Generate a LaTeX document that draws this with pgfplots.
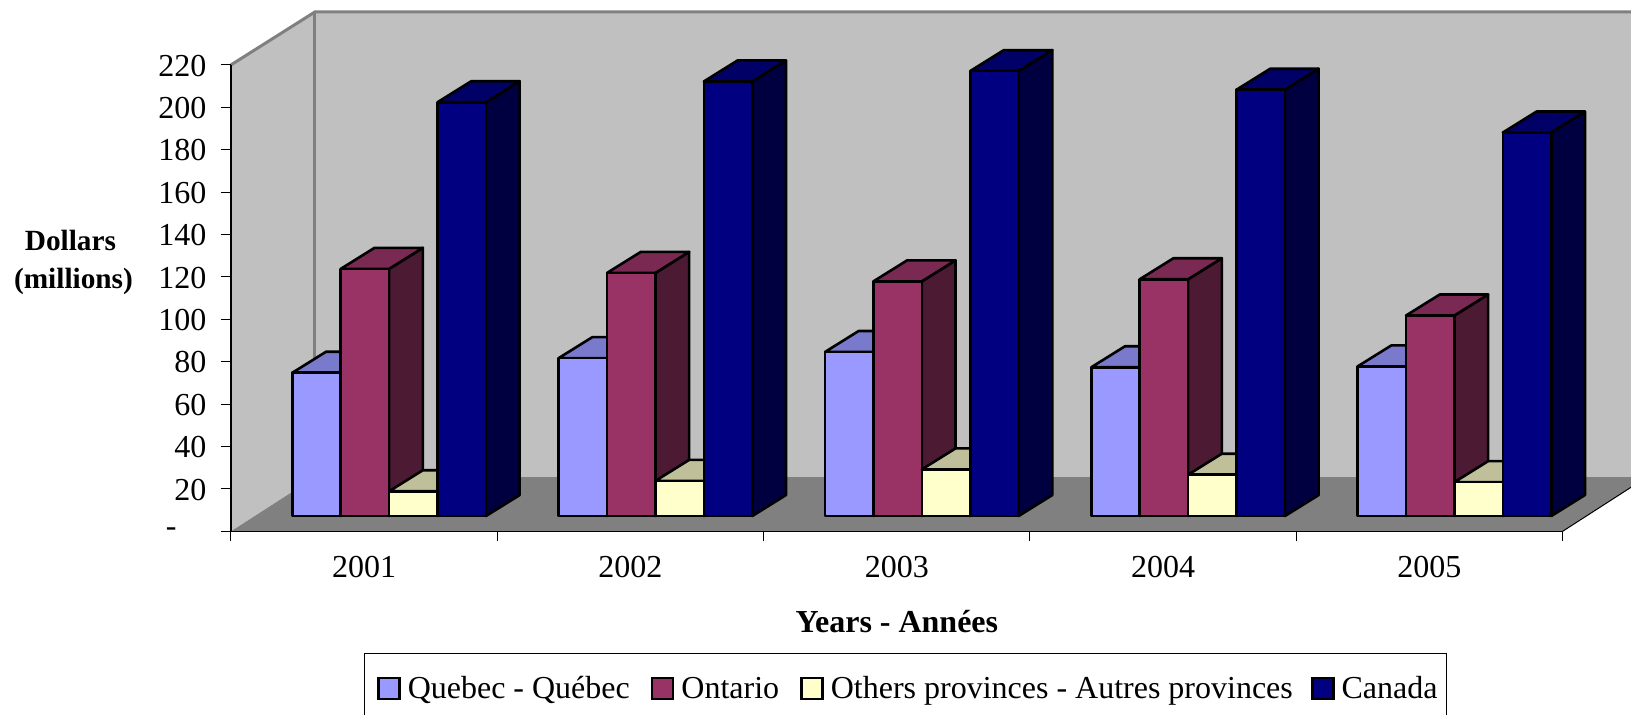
\documentclass[border=0pt]{standalone}
\usepackage{fontspec}
\setmainfont{Liberation Serif}
\usepackage{pgfplots}
\pgfplotsset{compat=1.18}
\definecolor{wallc}{HTML}{C0C0C0}
\definecolor{floorc}{HTML}{808080}
\definecolor{qf}{HTML}{9999FF}\definecolor{qt}{HTML}{7A7ACC}\definecolor{qs}{HTML}{4D4D80}
\definecolor{of}{HTML}{993366}\definecolor{ot}{HTML}{7A2952}\definecolor{os}{HTML}{4D1A33}
\definecolor{af}{HTML}{FFFFCC}\definecolor{at}{HTML}{BFBF99}\definecolor{as}{HTML}{808066}
\definecolor{cf}{HTML}{000080}\definecolor{ct}{HTML}{000066}\definecolor{cs}{HTML}{000040}
\newcommand\tf{\fontsize{32}{38.5}\selectfont}
\newcommand\lf{\fontsize{29.3}{38.5}\selectfont}
% one 3-D column: category, series, value, front, top, side colours
\newcommand\onebar[6]{%
  \pgfmathsetmacro\xL{#1+0.2305+#2*0.1817}%
  \pgfmathsetmacro\xR{\xL+0.1817}%
  \pgfmathsetmacro\xLb{\xL+0.1265}%
  \pgfmathsetmacro\xRb{\xR+0.1265}%
  \pgfmathsetmacro\yB{7.2}%
  \pgfmathsetmacro\yT{\yB+#3}%
  \pgfmathsetmacro\yTb{\yT+9.9}%
  \pgfmathsetmacro\yBb{\yB+9.9}%
  \edef\doit{%
    \noexpand\addplot[forget plot,fill=#6,draw=black,line width=2.6pt,line join=round] coordinates {(\xR,\yB) (\xRb,\yBb) (\xRb,\yTb) (\xR,\yT)} -- cycle;
    \noexpand\addplot[forget plot,fill=#5,draw=black,line width=2.6pt,line join=round] coordinates {(\xL,\yT) (\xLb,\yTb) (\xRb,\yTb) (\xR,\yT)} -- cycle;
    \noexpand\addplot[forget plot,fill=#4,draw=black,line width=2.6pt,line join=round] coordinates {(\xL,\yB) (\xR,\yB) (\xR,\yT) (\xL,\yT)} -- cycle;
  }\doit}
\newcommand\group[5]{%
  \onebar{#1}{0}{#2}{qf}{qt}{qs}%
  \onebar{#1}{1}{#3}{of}{ot}{os}%
  \onebar{#1}{2}{#4}{af}{at}{as}%
  \onebar{#1}{3}{#5}{cf}{ct}{cs}}
\begin{document}
\begin{tikzpicture}
\useasboundingbox (0,0) rectangle (1631pt,715pt);
\clip (0,0) rectangle (1631pt,715pt);
\begin{axis}[
  at={(231pt,183.7pt)}, anchor=origin,
  scale only axis, width=1331.7pt, height=466.4pt,
  xmin=0, xmax=5, ymin=0, ymax=220,
  clip=false, axis on top,
  axis x line=bottom, axis y line=left,
  axis line style={-,black,line width=1.3pt},
  xtick={0,1,2,3,4,5}, x tick label as interval,
  xticklabels={2001,2002,2003,2004,2005},
  ytick={0,20,40,60,80,100,120,140,160,180,200,220},
  yticklabels={\mbox{\raisebox{-2.5pt}{-}\kern30pt},20,40,60,80,100,120,140,160,180,200,220},
  tick align=outside, major tick length=10pt,
  tick style={black,line width=1pt},
  minor tick num=0,
  every tick label/.append style={font=\tf},
  yticklabel style={anchor=east,xshift=-11pt,yshift=-0.7pt},
  xticklabel style={yshift=-11pt},
  xlabel={\textbf{Years - Années}}, ylabel={\mbox{\textbf{Dollars}\kern6pt}\\\textbf{(millions)}},
  every axis x label/.style={at={(rel axis cs:0.5,-0.1945)},anchor=center,font=\tf},
  every axis y label/.style={at={(rel axis cs:-0.1183,0.576)},anchor=center,font=\lf,align=center},
  legend columns=4, legend cell align=left,
  legend style={at={(rel axis cs:0.5065,-0.3371)},anchor=center,font=\tf,draw=black,line width=1pt,
    inner xsep=12.5pt,inner ysep=21.5pt,
    /tikz/every odd column/.append style={column sep=5pt},
    /tikz/column 2/.style={column sep=19pt},
    /tikz/column 4/.style={column sep=19pt},
    /tikz/column 6/.style={column sep=16pt}},
  legend image code/.code={\draw[#1,line width=2.6pt] (0pt,-10.5pt) rectangle (21pt,10.5pt);},
]
\addlegendimage{fill=qf,draw=black}\addlegendentry{Quebec - Québec}
\addlegendimage{fill=of,draw=black}\addlegendentry{Ontario}
\addlegendimage{fill=af,draw=black}\addlegendentry{Others provinces - Autres provinces}
\addlegendimage{fill=cf,draw=black}\addlegendentry{\mbox{Canada\kern-5.7pt}}
% left wall, back wall, floor
\addplot[forget plot,fill=wallc,draw=none] coordinates {(0,0) (0,220) (0.3154,245) (0.3154,25.5)} -- cycle;
\addplot[forget plot,fill=wallc,draw=none] coordinates {(0.3154,25.5) (0.3154,245) (5.3154,245) (5.3154,25.5)} -- cycle;
\addplot[forget plot,fill=floorc,draw=none] coordinates {(0,0) (5,0) (5.3154,25.5) (0.3154,25.5)} -- cycle;
\addplot[forget plot,draw=floorc,line width=3pt] coordinates {(0,220) (0.3154,245) (5.3154,245)};
\addplot[forget plot,draw=floorc,line width=3pt] coordinates {(0.3154,245) (0.3154,25.5)};
\addplot[forget plot,draw=black,line width=1pt] coordinates {(5,0) (5.3154,25.5)};
\group{0}{67.6}{116.6}{11.7}{195.2}
\group{1}{74.5}{114.7}{16.6}{205}
\group{2}{77.4}{110.7}{22}{209.9}
\group{3}{70.2}{111.7}{19.5}{201.1}
\group{4}{70.6}{94.6}{16}{180.9}
\end{axis}
\end{tikzpicture}
\end{document}
